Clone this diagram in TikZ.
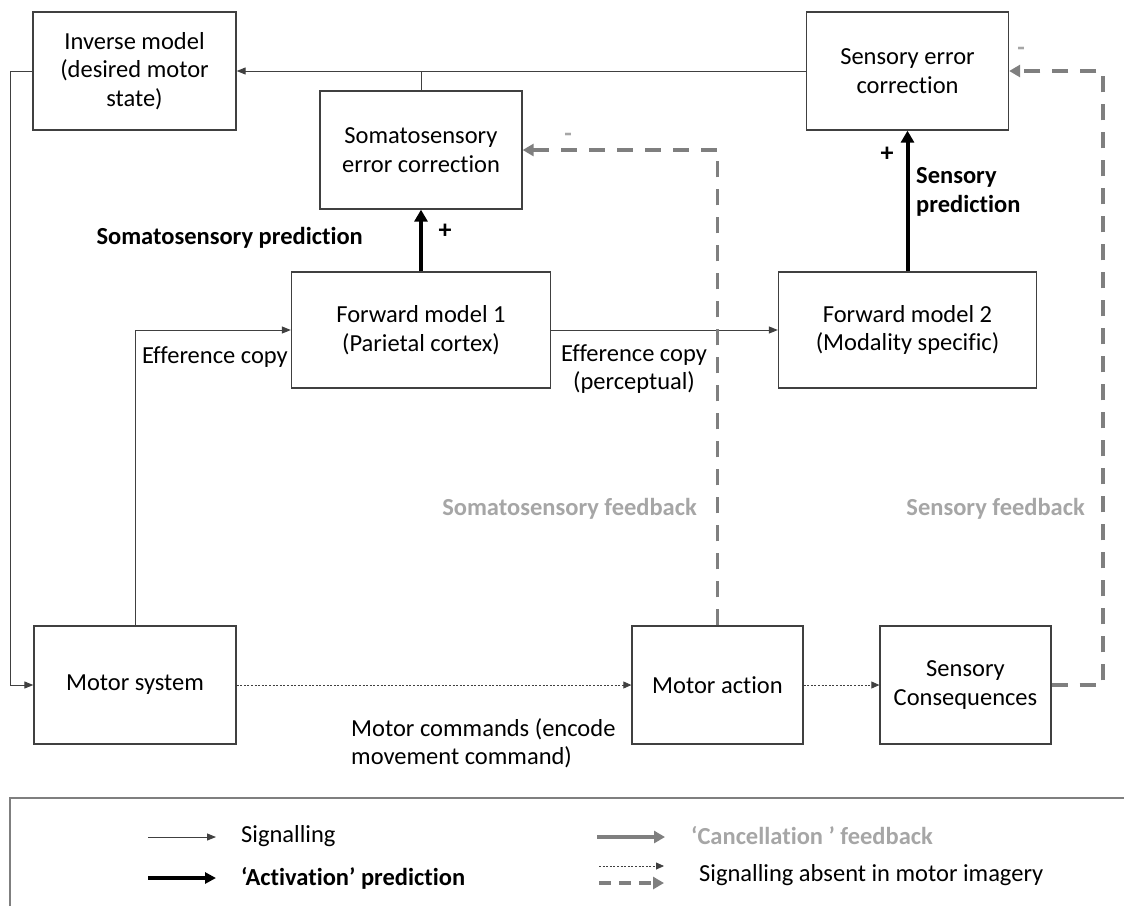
\documentclass[tikz,border=0pt]{standalone}
\usepackage{fontspec}
\setmainfont[Ligatures=NoCommon]{Carlito}
\usetikzlibrary{arrows.meta,calc}
\definecolor{linec}{HTML}{404040}
\definecolor{fbgray}{HTML}{7F7F7F}
\definecolor{lightg}{HTML}{A6A6A6}
\tikzset{
  box/.style={draw=linec, line width=1.3pt, minimum width=202pt, minimum height=118pt, inner sep=0pt, align=center, font=\fontsize{24.5}{28.5}\selectfont},
  txt/.style={inner sep=0pt, align=center, font=\fontsize{24.5}{28.5}\selectfont},
  btxt/.style={inner sep=0pt, align=center, font=\fontsize{24.5}{28.5}\selectfont\bfseries},
  plain/.style={draw=linec, line width=1pt},
  sig/.style={draw=linec, line width=1pt, -{Triangle[length=9pt,width=7pt]}},
  act/.style={draw=black, line width=4pt, -{Triangle[length=12pt,width=13pt]}},
  fb/.style={draw=fbgray, line width=3.6pt, dash pattern=on 16pt off 12pt, -{Triangle[length=11pt,width=12pt]}},
  dot/.style={draw=linec, line width=0.8pt, dash pattern=on 2pt off 1.6pt, -{Triangle[length=8pt,width=7pt]}},
  legbox/.style={draw=fbgray, line width=1.3pt},
}
\begin{document}
\begin{tikzpicture}[x=1pt,y=-1pt]
\useasboundingbox (0,0) rectangle (1124,906);
% boxes
\node[box, minimum width=203pt] (inv) at (134.5,71) {Inverse model\\(desired motor\\state)};
\node[box] (soma) at (421,150) {Somatosensory\\error correction};
\node[box] (sec) at (907.5,71) {Sensory error\\correction};
\node[box, minimum width=259pt, minimum height=116pt] (fm1) at (421,330) {Forward model 1\\(Parietal cortex)};
\node[box, minimum width=258pt, minimum height=116pt] (fm2) at (907.5,330) {Forward model 2\\(Modality specific)};
\node[box] (ms) at (135,685) {Motor system};
\node[box, minimum width=171pt] (ma) at (717.5,685) {Motor action};
\node[box, minimum width=171pt] (sc) at (965.5,685) {Sensory\\Consequences};
% helper coordinates
\coordinate (lc) at (10,0);
\coordinate (rc) at (1103,0);
% connectors
\draw[sig] (sec.west) -- (inv.east);
\draw[plain] (soma.north) -- (soma.north |- inv.east);
\draw[sig] (inv.west) -- (inv.west -| lc) |- (ms.west);
\draw[sig] (ms.north) |- (fm1.west);
\draw[sig] (fm1.east) -- (fm2.west);
\draw[act] (fm1.north) -- (soma.south);
\draw[act] (fm2.north) -- (sec.south);
\draw[dot] (ms.east) -- (ma.west);
\draw[dot] (ma.east) -- (sc.west);
\draw[fb] (ma.north) |- (soma.east);
\draw[fb] (sc.east) -- (sc.east -| rc) |- (sec.east);
% labels
\node[btxt, anchor=east] (lsp) at (363,238) {Somatosensory prediction};
\node[btxt, font=\fontsize{26}{29}\selectfont\bfseries] (plus1) at (445,231) {+};
\node[btxt, font=\fontsize{26}{29}\selectfont\bfseries] (plus2) at (887,154) {+};
\node[btxt, align=left, anchor=west] (lsens) at (916,192) {Sensory\\prediction};
\node[txt, anchor=east] (lec1) at (288,357) {Efference copy};
\node[txt] (lec2) at (634,369) {Efference copy\\(perceptual)};
\node[btxt, text=lightg, anchor=east] (lsf) at (697,509) {Somatosensory feedback};
\node[btxt, text=lightg, anchor=east] (lsf2) at (1085,509) {Sensory feedback};
\node[txt, align=left, anchor=west] (lmc) at (351,743) {Motor commands (encode\\movement command)};
\node[btxt, text=lightg] (minus1) at (568,137) {-};
\node[btxt, text=lightg] (minus2) at (1021,51) {-};
% legend
\coordinate (lgA) at (10,906);
\coordinate (lgB) at (10,798);
\coordinate (lgC) at (1124,798);
\draw[legbox] (lgA) -- (lgB) -- (lgC);
\coordinate (s1a) at (148,837); \coordinate (s1b) at (216,837);
\coordinate (s2a) at (148,878); \coordinate (s2b) at (216,878);
\coordinate (s3a) at (597,837); \coordinate (s3b) at (665,837);
\coordinate (s4a) at (599,866); \coordinate (s4b) at (664,866);
\coordinate (s5a) at (599,883); \coordinate (s5b) at (664,883);
\draw[sig] (s1a) -- (s1b);
\draw[act, -{Triangle[length=11pt,width=11pt]}] (s2a) -- (s2b);
\draw[draw=fbgray, line width=3.6pt, -{Triangle[length=11pt,width=12pt]}] (s3a) -- (s3b);
\draw[dot] (s4a) -- (s4b);
\draw[fb, dash pattern=on 12pt off 8pt] (s5a) -- (s5b);
\node[txt, anchor=west] (l1) at (241,836) {Signalling};
\node[btxt, anchor=west] (l2) at (241,878) {‘Activation’ prediction};
\node[btxt, anchor=west, text=lightg] (l3) at (691,836) {‘Cancellation ’ feedback};
\node[txt, anchor=west] (l4) at (699,875) {Signalling absent in motor imagery};
\end{tikzpicture}
\end{document}
